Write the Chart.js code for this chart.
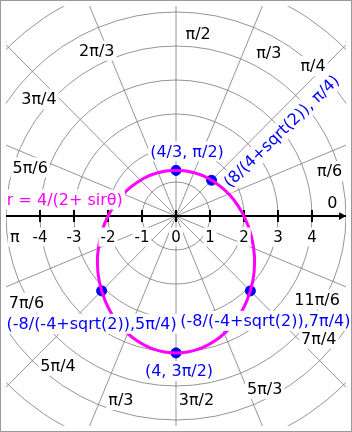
<!DOCTYPE html>
<html>
<head>
<meta charset="utf-8">
<script src="https://cdn.jsdelivr.net/npm/chart.js@4/dist/chart.umd.min.js"></script>
<style>
  body { margin: 0; background: #fff; }
  #wrap { width: 352px; height: 432px; }
</style>
</head>
<body>
<div id="wrap"><canvas id="grafico" width="352" height="432"></canvas></div>
<script>
// curva r = 4/(2+sin t) (graus -> raio)
const curveAngles = [0, 10, 20, 30, 40, 50, 60, 70, 80, 90, 100, 110, 120, 130, 140, 150, 160, 170,
  180, 190, 200, 210, 220, 230, 240, 250, 260, 270, 280, 290, 300, 310, 320, 330, 340, 350, 360]
const curveRadii = [2, 1.84, 1.71, 1.6, 1.51, 1.45, 1.40, 1.36, 1.34, 1.33, 1.34, 1.36, 1.40, 1.45, 1.51, 1.6, 1.71, 1.84,
  2, 2.19, 2.41, 2.67, 2.95, 3.24, 3.53, 3.77, 3.94, 4, 3.94, 3.77, 3.53, 3.24, 2.95, 2.67, 2.41, 2.19, 2]

// pontos marcados
const pointAngles = [90, 45, 225, 315, 270]
const pointRadii = [1.333, 1.478, 3.094, 3.094, 4]
const pointLabels = ['(4/3, \u03c0/2)', '(8/(4+sqrt(2)), \u03c0/4)', '(-8/(-4+sqrt(2)),5\u03c0/4)',
  '(-8/(-4+sqrt(2)),7\u03c0/4)', '(4, 3\u03c0/2)']

// grade polar
const gridRadii = [1, 2, 3, 4, 5, 6, 7, 8]
const spokeAngles = [0, 22.5, 45, 67.5, 90, 112.5, 135, 157.5, 180, 202.5, 225, 247.5, 270, 292.5, 315, 337.5]
const axisTicks = [-4, -3, -2, -1, 0, 1, 2, 3, 4]
const angleLabels = ['0', '\u03c0/6', '\u03c0/4', '\u03c0/3', '\u03c0/2', '2\u03c0/3', '3\u03c0/4', '5\u03c0/6', '\u03c0',
  '7\u03c0/6', '5\u03c0/4', '\u03c0/3', '3\u03c0/2', '5\u03c0/3', '7\u03c0/4', '11\u03c0/6']

// onde cada rótulo de ângulo fica (unidades do gráfico)
const angleLabelPos = [[4.60, 0.37], [4.52, 1.31], [4.03, 4.38], [2.73, 4.77], [0.65, 5.31], [-2.33, 4.83],
  [-4.03, 3.41], [-4.29, 1.42], [-4.74, -0.60], [-4.40, -2.53], [-3.47, -4.38], [-1.62, -5.37],
  [0.60, -5.37], [2.61, -5.06], [4.20, -3.58], [4.15, -2.44]]
// deslocamento (px) e rotação dos rótulos azuis
const pointLabelOffset = [[11, -19, 0], [70, -49, -44], [-10, 33, 0], [15, 30, 0], [3, 18, 0]]

function toXY(angles, radii) {
  return angles.map((a, i) => {
    const t = a * Math.PI / 180
    return { x: radii[i] * Math.cos(t), y: radii[i] * Math.sin(t) }
  })
}

const FONT = '"DejaVu Sans", sans-serif'

function rotulo(ctx, text, px, py, size, color, rot) {
  ctx.save()
  ctx.translate(px, py)
  if (rot) ctx.rotate(rot * Math.PI / 180)
  ctx.font = size + 'px ' + FONT
  const w = ctx.measureText(text).width
  ctx.fillStyle = '#fff'
  ctx.fillRect(-w / 2 - 2, -size / 2 - 2, w + 4, size + 4)
  ctx.fillStyle = color
  ctx.textAlign = 'center'
  ctx.textBaseline = 'middle'
  ctx.fillText(text, 0, 1)
  ctx.restore()
}

const polarGrid = {
  id: 'polarGrid',
  beforeDatasetsDraw(chart) {
    const ctx = chart.ctx
    const sx = chart.scales.x
    const sy = chart.scales.y
    const a = chart.chartArea
    const cx = sx.getPixelForValue(0)
    const cy = sy.getPixelForValue(0)
    ctx.save()
    ctx.beginPath()
    ctx.rect(a.left, a.top, a.right - a.left, a.bottom - a.top)
    ctx.clip()

    ctx.strokeStyle = '#7a7a7a'
    ctx.lineWidth = 0.8
    gridRadii.forEach(r => {
      ctx.beginPath()
      ctx.arc(cx, cy, sx.getPixelForValue(r) - cx, 0, Math.PI * 2)
      ctx.stroke()
    })
    spokeAngles.forEach(g => {
      const t = g * Math.PI / 180
      ctx.beginPath()
      ctx.moveTo(cx, cy)
      ctx.lineTo(sx.getPixelForValue(12 * Math.cos(t)), sy.getPixelForValue(12 * Math.sin(t)))
      ctx.stroke()
    })

    // eixo horizontal
    ctx.strokeStyle = '#000'
    ctx.lineWidth = 2
    ctx.beginPath()
    ctx.moveTo(a.left, cy)
    ctx.lineTo(a.right, cy)
    ctx.stroke()
    axisTicks.forEach(v => {
      const px = sx.getPixelForValue(v)
      ctx.beginPath()
      ctx.moveTo(px, cy - 6)
      ctx.lineTo(px, cy + 6)
      ctx.stroke()
    })
    ctx.fillStyle = '#000'
    ctx.beginPath()
    ctx.moveTo(a.right, cy)
    ctx.lineTo(a.right - 7, cy - 4)
    ctx.lineTo(a.right - 7, cy + 4)
    ctx.closePath()
    ctx.fill()
    ctx.restore()
  },
  afterDatasetsDraw(chart) {
    const ctx = chart.ctx
    const sx = chart.scales.x
    const sy = chart.scales.y
    const cy = sy.getPixelForValue(0)

    axisTicks.forEach(v => {
      rotulo(ctx, String(v), sx.getPixelForValue(v), cy + 21, 15, '#000', 0)
    })
    angleLabels.forEach((t, i) => {
      const p = angleLabelPos[i]
      rotulo(ctx, t, sx.getPixelForValue(p[0]), sy.getPixelForValue(p[1]), 16, '#000', 0)
    })
    const pts = toXY(pointAngles, pointRadii)
    pointLabels.forEach((t, i) => {
      const o = pointLabelOffset[i]
      rotulo(ctx, t, sx.getPixelForValue(pts[i].x) + o[0], sy.getPixelForValue(pts[i].y) + o[1], 16, '#0000ff', o[2])
    })
    rotulo(ctx, 'r = 4/(2+ sir\u03b8)', sx.getPixelForValue(-3.27), sy.getPixelForValue(0.48), 16, '#ff00ff', 0)

    // borda
    ctx.save()
    ctx.strokeStyle = '#999'
    ctx.lineWidth = 1
    ctx.strokeRect(0.5, 0.5, chart.width - 1, chart.height - 1)
    ctx.restore()
  }
}

const grafico = new Chart(document.getElementById('grafico'), {
  type: 'scatter',
  data: {
    datasets: [{
      label: 'r = 4/(2+sin\u03b8)',
      data: toXY(curveAngles, curveRadii),
      showLine: true,
      borderColor: '#ff00ff',
      borderWidth: 3,
      pointRadius: 0,
      tension: 0.3
    }, {
      label: 'pontos',
      data: toXY(pointAngles, pointRadii),
      backgroundColor: '#0000ff',
      borderColor: '#0000ff',
      borderWidth: 1,
      pointRadius: 5
    }]
  },
  options: {
    responsive: false,
    animation: false,
    layout: { padding: 0 },
    plugins: { legend: { display: false }, tooltip: { enabled: false } },
    scales: {
      x: { type: 'linear', min: -5, max: 5, display: false },
      y: { type: 'linear', min: -6.136, max: 6.136, display: false }
    }
  },
  plugins: [polarGrid]
})
</script>
</body>
</html>
